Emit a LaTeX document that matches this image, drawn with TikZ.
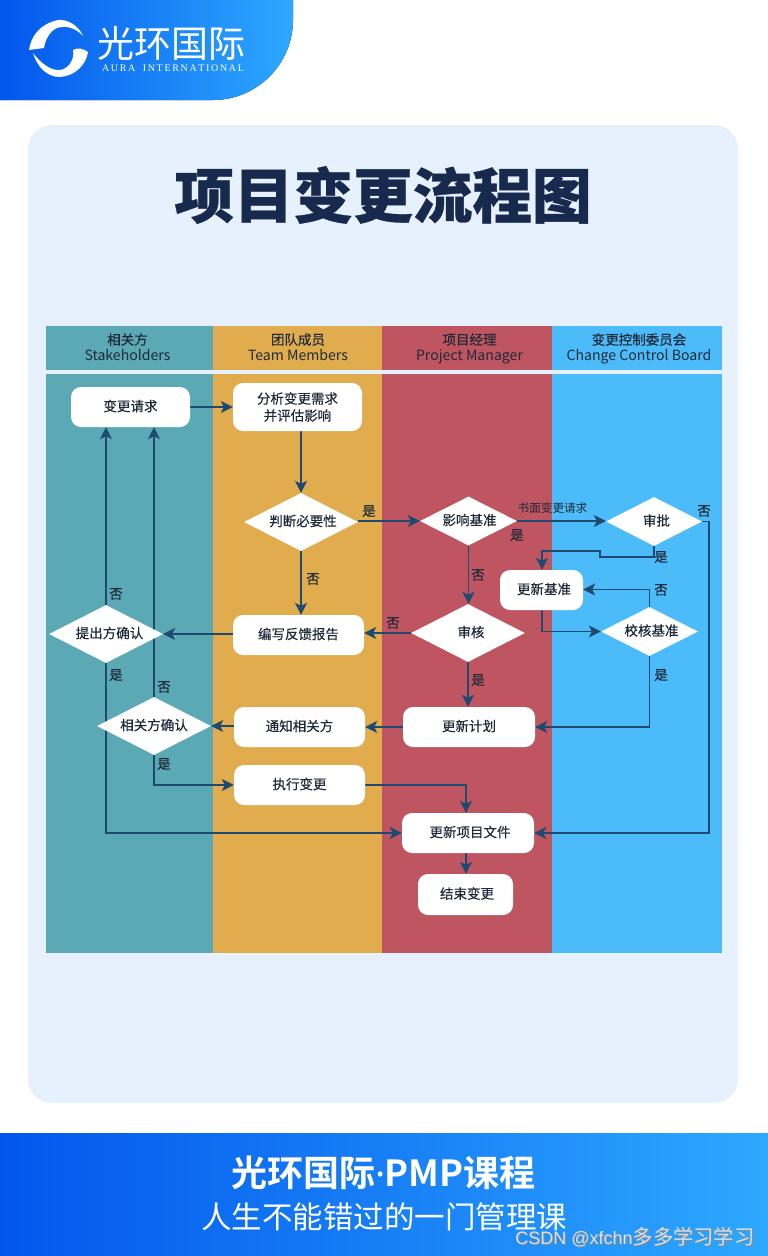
\documentclass[tikz,border=0pt]{standalone}
\usepackage{fontspec}
\setmainfont{Noto Sans CJK SC}
\newfontfamily\cjkmed[FakeBold=0.35]{Noto Sans CJK SC}
\newfontfamily\cjkbold{Noto Sans CJK SC Bold}
\newfontfamily\titlefont[FakeBold=0.6]{Noto Sans CJK SC Black}
\newfontfamily\logofont{Liberation Serif}
\newfontfamily\wmfont{Liberation Sans}
\newfontfamily\dotfont[FakeBold=0.5]{Noto Sans}
\usetikzlibrary{shapes.geometric,arrows.meta,shadows}
\definecolor{teal1}{HTML}{5BA9B4}
\definecolor{org1}{HTML}{E0AC4E}
\definecolor{red1}{HTML}{BE5560}
\definecolor{blu1}{HTML}{4CBBF9}
\definecolor{pan1}{HTML}{E7F1FD}
\definecolor{gradl}{HTML}{0256EC}
\definecolor{gradr}{HTML}{2DA8FF}
\definecolor{ink}{HTML}{1F2A38}
\definecolor{conn1}{HTML}{1F4A70}
\definecolor{titlec}{HTML}{17294D}
\pgfdeclarelayer{bglayer}
\pgfdeclarelayer{connlayer}
\pgfsetlayers{bglayer,connlayer,main}
\tikzset{
  x=1pt,y=-1pt,
  boxn/.style={rectangle,rounded corners=10pt,fill=white,inner sep=0pt,text=ink,font=\cjkmed\fontsize{13.5}{17}\selectfont,align=center},
  dia/.style={diamond,fill=white,inner sep=0pt,aspect=2,text=ink,font=\cjkmed\fontsize{13.5}{17}\selectfont,align=center},
  lab/.style={inner sep=0pt,text=ink,font=\cjkmed\fontsize{13.5}{15}\selectfont},
  hdr/.style={inner sep=0pt,text=ink,align=center,font=\fontsize{14.1}{15.5}\selectfont},
  arr/.style={draw=conn1,line width=1.2pt,-{Stealth[inset=3pt,length=12pt,width=12pt]}},
}
\newcommand{\upt}[1]{\raisebox{1pt}[\height][\depth]{#1}}
\newcommand{\boxat}[6]{\node[boxn,minimum width=#4 pt,minimum height=#5 pt] (#1) at (#2,#3) {\upt{#6}};}
\newcommand{\diaat}[6]{\node[dia,minimum width=#4 pt,minimum height=#5 pt] (#1) at (#2,#3) {\upt{#6}};}
\newcommand{\hcn}[1]{{\cjkmed\fontsize{13.5}{15}\selectfont #1}\vphantom{gpTl}}
\begin{document}
\begin{tikzpicture}
\useasboundingbox (0,0) rectangle (768,1256);
\begin{pgfonlayer}{bglayer}
\fill[white] (0,0) rectangle (768,1256);
% header band
\fill[left color=gradl,right color=gradr] (0,0) -- (293,0) -- (293,20) .. controls (293,64) and (257,100) .. (213,100) -- (0,100) -- cycle;
% footer band
\fill[left color=gradl,right color=gradr] (0,1133) rectangle (768,1256);
% panel
\fill[pan1,rounded corners=24pt] (28,125) rectangle (738,1103);
% lanes
\fill[teal1] (46,326) rectangle (212.5,370);
\fill[org1] (212.5,326) rectangle (382,370);
\fill[red1] (382,326) rectangle (552,370);
\fill[blu1] (552,326) rectangle (722,370);
\fill[teal1] (46,374) rectangle (212.5,953);
\fill[org1] (212.5,374) rectangle (382,953);
\fill[red1] (382,374) rectangle (552,953);
\fill[blu1] (552,374) rectangle (722,953);
% logo
\fill[white] (29,50) .. controls (31,36) and (40,24) .. (58,20) .. controls (68,19) and (79,26) .. (83,36) .. controls (76,28) and (66,25) .. (57,28) .. controls (50,31) and (45,40) .. (44,48) -- cycle;
\fill[white] (88,52) .. controls (86,65) and (75,76) .. (60,77) .. controls (46,77) and (37,66) .. (33,53) .. controls (40,62) and (50,71) .. (60,70) .. controls (68,69) and (75,60) .. (73,50) .. controls (78,47) and (84,49) .. (88,52) -- cycle;
\end{pgfonlayer}
% logo text
\node[inner sep=0pt,text=white,font=\fontsize{37}{37}\selectfont] (logocn) at (171.5,43) {光环国际};
\node[inner sep=0pt,text=white,font=\logofont\fontsize{10}{10}\selectfont] (logoen) at (173,68) {A\,U\,R\,A\ \ \ I\,N\,T\,E\,R\,N\,A\,T\,I\,O\,N\,A\,L};
% title
\node[inner sep=0pt,text=titlec,font=\titlefont\fontsize{59.6}{60}\selectfont] (title) at (383,195) {项目变更流程图};
% lane headers
\node[hdr] (h1) at (127.5,348.5) {\hcn{相关方}\\Stakeholders\vphantom{gpTl}};
\node[hdr] (h2) at (298,348.5) {\hcn{团队成员}\\Team Members\vphantom{gpTl}};
\node[hdr] (h3) at (469.5,348.5) {\hcn{项目经理}\\Project Manager\vphantom{gpTl}};
\node[hdr] (h4) at (639,348.5) {\hcn{变更控制委员会}\\Change Control Board\vphantom{gpTl}};
% nodes
\boxat{req}{130.5}{407}{119}{40}{变更请求}
\node[boxn,minimum width=129pt,minimum height=48pt] (ana) at (297.5,407) {分析变更需求\\并评估影响};
\diaat{nec}{301}{522}{114}{58}{\hspace*{4pt}判断必要性}
\diaat{imp}{468.5}{521}{97}{49}{\hspace*{2pt}影响基准}
\diaat{appr}{654}{521.5}{96}{49}{\hspace*{5pt}审批}
\boxat{upb}{541.5}{590}{83}{40}{\hspace*{5pt}更新基准}
\diaat{chk}{649.5}{631.5}{97}{49}{\hspace*{4pt}校核基准}
\diaat{rev}{468}{633}{114}{58}{\hspace*{6pt}审核}
\boxat{upp}{469}{727}{132}{40}{更新计划}
\boxat{rep}{298.5}{635}{131}{40}{编写反馈报告}
\diaat{pro}{106}{634}{114}{58}{\hspace*{7pt}提出方确认}
\diaat{sta}{154}{726}{114}{58}{相关方确认}
\boxat{noti}{299.5}{727}{131}{40}{通知相关方}
\boxat{exe}{299.5}{785}{131}{40}{执行变更}
\boxat{doc}{468}{833}{132}{40}{\hspace*{4pt}更新项目文件}
\boxat{fin}{465.5}{894.5}{95}{41}{\hspace*{3pt}结束变更}
% connector helper points
\coordinate (a1) at (654,557);
\coordinate (a2) at (600,557);
\coordinate (a3) at (600,551);
\coordinate (a4) at (542,551);
\coordinate (b1) at (709,521.5);
\coordinate (b2) at (709,833);
\coordinate (c1) at (649.5,589.5);
\coordinate (d1) at (542,631.5);
\coordinate (e1) at (106,833);
\coordinate (f1) at (154,785);
\coordinate (g1) at (466,785);
\begin{pgfonlayer}{connlayer}
\draw[arr] (req.east) -- (ana.west);
\draw[arr] (ana.south -| nec.north) -- (nec.north);
\draw[arr] (nec.south) -- (rep.north -| nec.south);
\draw[arr] (nec.east |- imp.west) -- (imp.west);
\draw[arr] (imp.east) -- (appr.west |- imp.east);
\draw[arr] (imp.south) -- (imp.south |- rev.north);
\draw[arr] (appr.south) -- (a1) -- (a2) -- (a3) -- (a4) -- (a4 |- upb.north);
\draw[arr] (chk.north) -- (c1) -- (upb.east |- c1);
\draw[arr] (upb.south -| a4) -- (d1) -- (chk.west);
\draw[arr] (chk.south) -- (chk.south |- upp.east) -- (upp.east);
\draw[arr] (appr.east) -- (b1) -- (b2) -- (doc.east);
\draw[arr] (rev.west) -- (rep.east |- rev.west);
\draw[arr] (rev.south) -- (upp.north -| rev.south);
\draw[arr] (upp.west) -- (noti.east);
\draw[arr] (rep.west |- pro.east) -- (pro.east);
\draw[arr] (noti.west |- sta.east) -- (sta.east);
\draw[arr] (pro.north) -- (req.south -| pro.north);
\draw[arr] (sta.north) -- (req.south -| sta.north);
\draw[arr] (pro.south) -- (e1) -- (doc.west);
\draw[arr] (sta.south) -- (f1) -- (exe.west);
\draw[arr] (exe.east) -- (g1) -- (g1 |- doc.north);
\draw[arr] (g1 |- doc.south) -- (g1 |- fin.north);
\end{pgfonlayer}
% labels
\node[lab] (l1) at (369,511) {是};
\node[lab] (l2) at (313,579) {否};
\node[lab,font=\fontsize{11.6}{12}\selectfont] (l3) at (552.5,508) {书面变更请求};
\node[lab] (l4) at (517,535) {是};
\node[lab] (l5) at (478,575) {否};
\node[lab] (l6) at (704,511) {否};
\node[lab] (l7) at (661,557) {是};
\node[lab] (l8) at (661,590) {否};
\node[lab] (l9) at (661,675) {是};
\node[lab] (l10) at (393,623) {否};
\node[lab] (l11) at (478,680) {是};
\node[lab] (l12) at (116,594) {否};
\node[lab] (l13) at (116,675) {是};
\node[lab] (l14) at (164,687) {否};
\node[lab] (l15) at (164,764) {是};
% footer
\node[inner sep=0pt,text=white,font=\cjkbold\fontsize{36}{36}\selectfont] (ft1) at (383.5,1173) {光环国际{\dotfont ·}PMP课程};
\node[inner sep=0pt,text=white,font=\fontsize{30.5}{31}\selectfont] (ft2) at (384,1216.5) {人生不能错过的一门管理课};
\node[inner sep=0pt,text=black!45,font=\wmfont\fontsize{18}{18}\selectfont] (wm0) at (635.8,1237.8) {CSDN @xfchn{\rmfamily\fontsize{20.3}{20}\selectfont 多多学习学习}};
\node[inner sep=0pt,text=white!88!black,font=\wmfont\fontsize{18}{18}\selectfont] (wm) at (635,1237) {CSDN @xfchn{\rmfamily\fontsize{20.3}{20}\selectfont 多多学习学习}};
\end{tikzpicture}
\end{document}
